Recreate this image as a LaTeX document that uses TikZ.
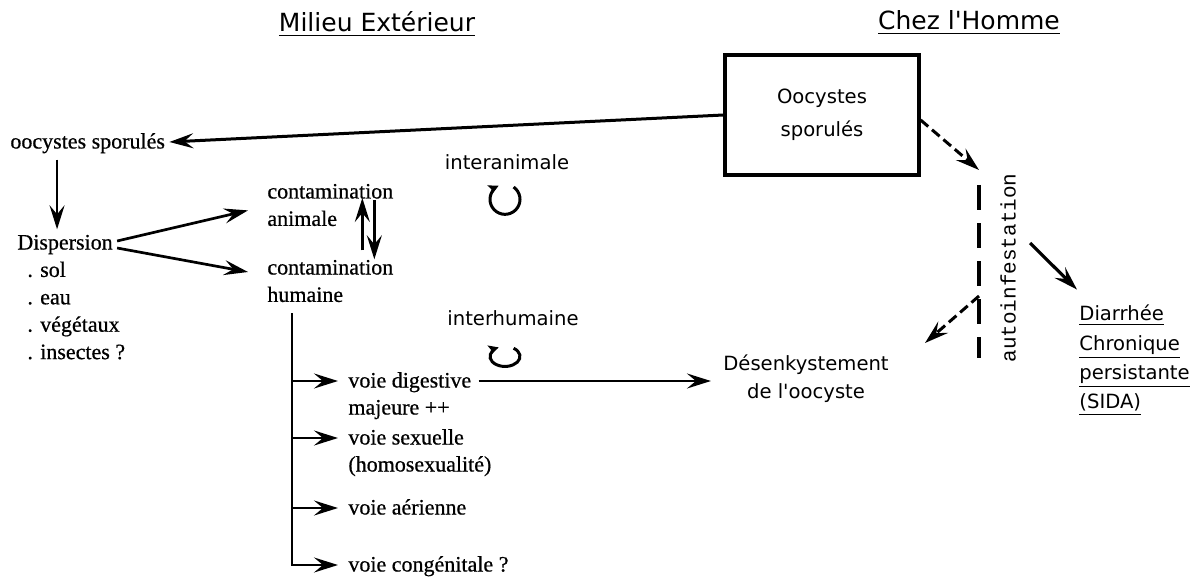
\documentclass[tikz,border=0pt]{standalone}
\usepackage{fontspec}
\setmainfont{Liberation Serif}[FakeBold=0.6]
\setmonofont{Liberation Mono}
\newfontfamily\geneva{DejaVu Sans}
\usetikzlibrary{arrows.meta, positioning}

\begin{document}
\begin{tikzpicture}[x=0.5pt, y=-0.5pt,
        t/.style={inner xsep=2pt, inner ysep=0pt, text height=9.9pt, text depth=3.4pt, font=\fontsize{11}{13.3}\selectfont},
        s/.style={inner xsep=2pt, inner ysep=0pt, font=\geneva\fontsize{9.8}{14}\selectfont},
        sl/.style={s, text height=10.1pt, text depth=4.15pt},
        ttl/.style={inner sep=0pt, font=\geneva\fontsize{12.5}{15}\selectfont},
        ar/.style={line width=1.35pt, -{Stealth[length=12pt, width=7.5pt, inset=4.5pt]}},
        da/.style={ar, line width=1.5pt, dash pattern=on 5pt off 2.5pt},
        cyc/.style={line width=1.5pt, -{Stealth[length=5pt, width=5pt, inset=1pt]}}]

        \useasboundingbox (0,0) rectangle (1202,577);

        \draw node[ttl, anchor=base] (mil) at (377,32) {\underline{Milieu Extérieur}};
        \draw node[ttl, anchor=base] (hom) at (969,30) {\underline{Chez l'Homme}};

        \draw node[s, draw, line width=1.6pt, align=center, minimum width=97pt, minimum height=60pt,
          font=\geneva\fontsize{9.8}{16.5}\selectfont] (bx) at (822,115) {Oocystes\\sporulés};

        \draw node[t, anchor=west] (oo) at (6,142) {oocystes sporulés};
        \draw[ar, line width=1.5pt] (bx.west) -- (oo.east);

        \draw node[t, anchor=west] (d0) at (13,243) {Dispersion};
        \coordinate (da) at ([xshift=-4pt]d0.north);
        \draw[ar, shorten <=2pt] (oo.south -| da) -- (da);

        \draw node[t, anchor=north west] (d1) at ([xshift=5pt]d0.south west) {. sol};
        \foreach \x/\y [evaluate = \x as \xp using int(\x-1)] in {2/. eau, 3/. végétaux, 4/. insectes ?}
        \draw node[t, below=0 of d\xp.south west, anchor=north west] (d\x) {\y};

        \draw node[t, anchor=west] (ca1) at (263,192) {contamination};
        \draw node[t, below=0 of ca1.south west, anchor=north west] (ca2) {animale};
        \draw node[t, anchor=west] (ch1) at (263,268) {contamination};
        \draw node[t, below=0 of ch1.south west, anchor=north west] (ch2) {humaine};

        \draw[ar] ([yshift=1pt]d0.east) -- ([xshift=-7.5pt, yshift=4.5pt]ca2.west);
        \draw[ar] ([yshift=-2.5pt]d0.east) -- ([xshift=-7.5pt, yshift=-2pt]ch1.west);
        \draw[ar] ([xshift=16pt, yshift=2pt]ch1.north) -- ([xshift=16pt, yshift=-3pt]ca1.center);
        \draw[ar] ([xshift=22pt, yshift=-4pt]ca1.center) -- ([xshift=22pt, yshift=-2.5pt]ch1.north);

        \draw node[sl] (ia) at (507,164) {interanimale};
        \draw[cyc] ([xshift=3.3pt, yshift=-4.2pt]ia.south) arc[start angle=55, end angle=-245, radius=7.5pt];
        \draw node[sl] (ih) at (513,320) {interhumaine};
        \draw[cyc] ([xshift=0.3pt, yshift=-6.8pt]ih.south) arc[start angle=55, end angle=-245, x radius=7.5pt, y radius=5pt];

        \foreach \x/\y/\z in {1/381/voie digestive, 2/408/majeure ++, 3/438/voie sexuelle,
          4/465/(homosexualité), 5/508/voie aérienne, 6/565/voie congénitale ?}
        \draw node[t, anchor=west] (v\x) at (344,\y) {\z};

        \coordinate (hb) at ([xshift=14.5pt]ch2.south west);
        \draw[ar, shorten <=2pt, shorten >=3pt] (hb) |- (v6.west);
        \foreach \x in {1,3,5}
        \draw[ar, shorten >=3pt] (hb |- v\x.west) -- (v\x.west);

        \draw node[s, align=center] (des) at (806,379) {Désenkystement\\de l'oocyste};
        \draw[ar, shorten <=1.5pt, shorten >=4pt] (v1.east) -- (v1.east -| des.west);

        \draw node[sl, anchor=west] (g1) at (1075,315) {\underline{Diarrhée}};
        \foreach \x/\y [evaluate = \x as \xp using int(\x-1)] in {2/Chronique, 3/persistante, 4/(SIDA)}
        \draw node[sl, below=0 of g\xp.south west, anchor=north west] (g\x) {\underline{\y}};

        \coordinate (as) at (1030,243);
        \draw[ar, line width=1.6pt] (as) -- ([xshift=1pt, yshift=5.4pt]g1.north west);

        \draw node[rotate=90, inner sep=0pt, font=\ttfamily\fontsize{10.5}{12}\selectfont] (au) at (1008,268) {autoinfestation};
        \coordinate (lt) at (979,185);
        \coordinate (lb) at (979,358);
        \coordinate (lm) at (979,296);
        \coordinate (dt) at (925,343);
        \draw[line width=1.6pt, dash pattern=on 12.5pt off 6.5pt] (lt) -- (lb);
        \draw[da] ([yshift=-2.5pt]bx.east) -- ([yshift=7.5pt]lt);
        \draw[da] (lm) -- (dt);
      \end{tikzpicture}
\end{document}
